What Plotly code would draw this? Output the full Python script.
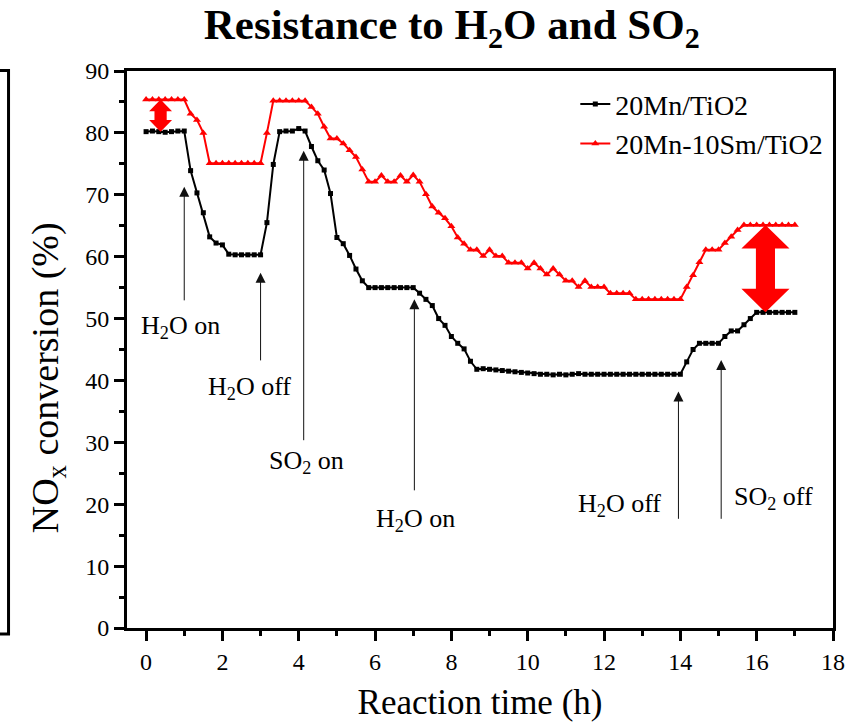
import plotly.graph_objects as go

# Sampling schedule: one reading every 10 minutes over 17 h
time_min = list(range(0, 1030, 10))
time_h = [m / 60 for m in time_min]

# NOx conversion (%) of 20Mn/TiO2
mn_tio2 = [
    80.2, 80.3, 80.2, 80.1, 80.2, 80.3, 80.3,
    73.9, 70.3, 67.1, 63.2, 62.2, 61.9,
    60.4, 60.3, 60.3, 60.3, 60.3, 60.3,
    65.5, 74.9, 80.2, 80.3, 80.3, 80.7, 80.3,
    77.8, 75.5, 74.0, 70.2, 63.1, 62.1, 60.2, 58.0, 56.1, 55.0,
    55.0, 55.0, 55.0, 55.0, 55.0, 55.0, 55.0,
    54.1, 53.1, 52.1, 50.0, 48.9, 47.1, 46.0, 45.1, 43.1, 41.8,
    41.9, 41.8, 41.7, 41.6, 41.5, 41.4, 41.3, 41.2, 41.1, 41.0,
    41.0, 40.9, 41.0, 40.9, 41.0, 41.1, 41.0, 41.0, 41.0, 41.0,
    41.0, 41.0, 41.0, 41.0, 41.0, 41.0, 41.0, 41.0, 41.0, 41.0, 41.0, 41.0,
    43.0, 45.0, 46.0, 46.0, 46.0, 46.0,
    47.1, 48.0, 48.0, 49.0, 50.0, 51.0,
    51.0, 51.0, 51.0, 51.0, 51.0, 51.0,
]

# NOx conversion (%) of 20Mn-10Sm/TiO2
mn_sm_tio2 = [
    85.4, 85.4, 85.4, 85.4, 85.4, 85.4, 85.4,
    83.1, 82.1, 80.0,
    75.1, 75.1, 75.1, 75.1, 75.1, 75.1, 75.1, 75.1, 75.1,
    80.0, 85.2, 85.2, 85.2, 85.2, 85.2, 85.2,
    84.2, 83.1, 81.0, 79.1, 79.1, 78.3, 77.2, 76.1, 74.1, 72.1,
    72.1, 73.1, 72.1, 72.1, 73.1, 72.1, 73.2, 72.1,
    70.1, 68.1, 67.1, 66.2, 64.9, 63.1, 62.1, 61.1, 61.1, 60.1,
    61.1, 60.1, 60.1, 59.0, 59.0, 59.0, 58.1, 59.0, 58.1, 57.1,
    58.1, 57.1, 56.1, 56.1, 55.1, 56.1, 55.1, 55.1, 55.1,
    54.1, 54.1, 54.1, 54.1,
    53.1, 53.1, 53.1, 53.1, 53.1, 53.1, 53.1, 53.1,
    55.1, 57.0, 59.1, 61.1, 61.1, 61.1,
    62.2, 63.2, 64.3,
    65.1, 65.1, 65.1, 65.1, 65.1, 65.1, 65.1, 65.1, 65.1,
]

series_names = ["20Mn/TiO2", "20Mn-10Sm/TiO2"]

# Gas switching events: label, time (h), arrow tip (%), arrow tail (%)
event_labels = ["H<sub>2</sub>O on", "H<sub>2</sub>O off", "SO<sub>2</sub> on",
                "H<sub>2</sub>O on", "H<sub>2</sub>O off", "SO<sub>2</sub> off"]
event_time = [1.0, 3.0, 4.13, 7.03, 13.95, 15.07]
event_tip = [71.3, 57.4, 77.1, 53.1, 38.2, 43.3]
event_tail = [52.7, 43.0, 30.1, 22.0, 17.4, 17.4]
label_x = [0.9, 2.7, 4.2, 7.05, 12.4, 16.44]
label_y = [48.6, 38.8, 26.9, 17.4, 19.9, 21.0]

# Gap markers between the two catalysts: (time, sample index)
gap_time = [0.38, 16.23]
gap_index = [2, 97]

FONT = "Liberation Serif"

fig = go.Figure()
fig.add_trace(go.Scatter(
    x=time_h, y=mn_tio2, name=series_names[0], mode="lines+markers",
    line=dict(color="black", width=2),
    marker=dict(symbol="square", size=5, color="black"),
))
fig.add_trace(go.Scatter(
    x=time_h, y=mn_sm_tio2, name=series_names[1], mode="lines+markers",
    line=dict(color="#ff0000", width=2),
    marker=dict(symbol="triangle-up", size=7, color="#ff0000"),
))

annotations = []
for lab, t, tip, tail, lx, ly in zip(event_labels, event_time, event_tip,
                                     event_tail, label_x, label_y):
    annotations.append(dict(
        x=t, y=tip, ax=t, ay=tail, xref="x", yref="y", axref="x", ayref="y",
        text="", showarrow=True, arrowhead=2, arrowsize=2, arrowwidth=1,
        arrowcolor="#111111", standoff=0, startstandoff=0,
    ))
    annotations.append(dict(
        x=lx, y=ly, xref="x", yref="y", text=lab, showarrow=False,
        font=dict(family=FONT, size=26, color="black"),
    ))

# y-axis title, placed as a rotated annotation
annotations.append(dict(
    x=-0.112, y=0.45, xref="paper", yref="paper",
    text="NO<sub>x</sub> conversion (%)", textangle=-90, showarrow=False,
    xanchor="center", yanchor="middle",
    font=dict(family=FONT, size=38, color="black"),
))


def double_arrow(xc, ytop, ybot, hw, sw, hh):
    pts = [
        (xc, ytop), (xc + hw, ytop - hh), (xc + sw, ytop - hh),
        (xc + sw, ybot + hh), (xc + hw, ybot + hh), (xc, ybot),
        (xc - hw, ybot + hh), (xc - sw, ybot + hh), (xc - sw, ytop - hh),
        (xc - hw, ytop - hh),
    ]
    return "M " + " L ".join(f"{x},{y}" for x, y in pts) + " Z"


arrow_dims = [(0.3, 0.16, 1.9), (0.63, 0.25, 3.8)]
shapes = []
for t, k, (hw, sw, hh) in zip(gap_time, gap_index, arrow_dims):
    shapes.append(dict(
        type="path", xref="x", yref="y",
        path=double_arrow(t, mn_sm_tio2[k], mn_tio2[k], hw, sw, hh),
        fillcolor="#ff0000", line=dict(width=0),
    ))

# Right edge of the neighbouring panel
shapes.append(dict(
    type="path", xref="paper", yref="paper",
    path="M -0.18,1.0009 L -0.1678,1.0009 L -0.1678,-0.0108 L -0.18,-0.0108",
    line=dict(color="black", width=3),
))

fig.update_layout(
    width=848, height=724,
    margin=dict(l=127, r=15, t=71, b=96),
    paper_bgcolor="white", plot_bgcolor="white",
    font=dict(family=FONT, color="black"),
    title=dict(
        text="<b>Resistance to H<sub>2</sub>O and SO<sub>2</sub></b>",
        x=0.46, xref="paper", xanchor="center",
        y=0.967, yref="container", yanchor="middle",
        font=dict(family=FONT, size=43, color="black"),
    ),
    showlegend=True,
    legend=dict(
        x=0.635, y=0.985, xanchor="left", yanchor="top",
        bgcolor="rgba(0,0,0,0)", font=dict(family=FONT, size=28),
        tracegroupgap=0,
    ),
    annotations=annotations,
    shapes=shapes,
)

fig.update_xaxes(
    range=[-0.5, 18], tickmode="linear", tick0=0, dtick=2,
    showgrid=False, zeroline=False, automargin=False,
    showline=True, linewidth=3, linecolor="black", mirror=True,
    ticks="outside", ticklen=10, tickwidth=3, tickcolor="black",
    minor=dict(dtick=1, tick0=0, ticks="outside", ticklen=5, tickwidth=3,
               tickcolor="black", showgrid=False),
    tickfont=dict(family=FONT, size=24),
    title=dict(text="Reaction time (h)", font=dict(family=FONT, size=35),
               standoff=16),
)
fig.update_yaxes(
    range=[0, 90], tickmode="linear", tick0=0, dtick=10,
    showgrid=False, zeroline=False, automargin=False,
    showline=True, linewidth=3, linecolor="black", mirror=True,
    ticks="outside", ticklen=10, tickwidth=3, tickcolor="black",
    minor=dict(dtick=5, tick0=0, ticks="outside", ticklen=5, tickwidth=3,
               tickcolor="black", showgrid=False),
    tickfont=dict(family=FONT, size=24),
)

fig.write_html("out.html")
